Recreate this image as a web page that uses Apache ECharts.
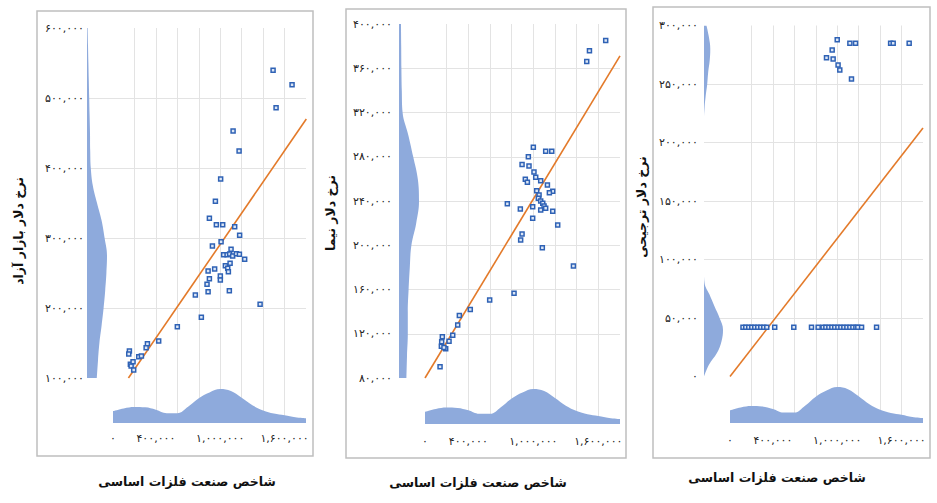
<!DOCTYPE html>
<html><head><meta charset="utf-8">
<script src="https://cdn.jsdelivr.net/npm/echarts@6/dist/echarts.min.js"></script>
<style>html,body{margin:0;padding:0;background:#fff}#c{width:937px;height:503px}</style>
</head><body><div id="c"></div>
<script>
// ---------------- DATA ----------------
// x: شاخص صنعت فلزات اساسی, y: نرخ دلار
const freeMarketPoints = [
  [1493000,539600],[1670000,519000],[1521000,486000],[1120000,452900],[1176000,424300],
  [1004000,384300],[955000,352400],[899000,328100],[964000,319000],[1023000,319000],
  [1135000,316100],[1181000,303900],[1008000,294700],[927000,288600],[1101000,283900],
  [1032000,276100],[1064000,276100],[1088000,277100],[1116000,274300],[1151000,277600],
  [1179000,276700],[1228000,269600],[1048000,260400],[1070000,256700],[1092000,263900],
  [1076000,251900],[948000,255700],[887000,252900],[899000,241900],[877000,233900],
  [887000,223300],[1001000,245700],[1001000,240000],[1085000,224700],[768000,218600],
  [824000,186700],[600000,173300],[1372000,205300],[426000,152900],[321000,149000],
  [309000,143300],[240000,130400],[265000,131400],[153000,138600],[147000,134300],
  [162000,119600],[169000,117100],[193000,111400],[187000,123300]
];
const freeMarketTrend = [[144000,100000],[1803000,470000]];

const nimaPoints = [
  [1668000,385100],[1518000,375800],[1493000,366100],[1000000,288600],[1114000,285000],
  [1170000,285000],[954000,280100],[896000,272900],[960000,271700],[1006000,266200],
  [1022000,261400],[926000,259600],[945000,256900],[1068000,258400],[1130000,254500],
  [1179000,248800],[1148000,247500],[1031000,249300],[1053000,245400],[1046000,242400],
  [1068000,240000],[1087000,237900],[1099000,235500],[1114000,233400],[760000,237600],
  [880000,232800],[994000,234800],[1068000,231900],[1179000,230700],[994000,224300],
  [1225000,218300],[896000,210100],[883000,204700],[1083000,197700],[1370000,181200],
  [822000,156700],[597000,150400],[418000,142000],[317000,136600],[302000,127800],
  [256000,118700],[222000,113300],[160000,117200],[154000,112700],[151000,108800],
  [191000,106400],[175000,107600],[139000,90100]
];
const nimaTrend = [[0,80000],[1800000,371200]];

const preferentialHighPoints = [
  [1000000,287900],[1118000,284800],[1171000,284800],[1498000,284800],[1522000,284800],
  [1671000,284800],[953000,279000],[900000,272500],[962000,271400],[1008000,266200],
  [1024000,262000],[1133000,254300]
];
const preferentialLowX = [
  121000,147000,175000,203000,231000,259000,287000,315000,343000,417000,595000,760000,
  822000,868000,894000,922000,950000,977000,1006000,1034000,1062000,1090000,1118000,
  1146000,1174000,1192000,1227000,1367000
];
const preferentialLowY = 42000;
const preferentialTrend = [[0,0],[1800000,212400]];

// marginal density of the metals index (relative, peak = 100)
const indexDensityAt = [0,100000,200000,300000,400000,500000,600000,700000,800000,900000,
  1000000,1100000,1200000,1300000,1400000,1500000,1600000,1700000,1800000];
const indexDensity = [35,43,47,46,39,29,29,48,73,90,100,94,74,52,37,28,23,17,14];

// marginal densities of the dollar rates (relative, peak = 100), bottom to top
const freeMarketDensityAt = [100000,125000,150000,175000,200000,225000,250000,275000,300000,
  325000,350000,375000,400000,425000,450000,475000,500000,525000,550000,575000,600000];
const freeMarketDensity = [49,55,62,73,83,91,97,100,88,73,50,29,19,16,15,13,11,9,7,5,3];

const nimaDensityAt = [80000,100000,120000,140000,160000,180000,200000,220000,240000,260000,
  280000,300000,320000,340000,360000,380000,400000];
const nimaDensity = [37,40,44,44,48,54,62,86,100,94,71,46,18,14,12,11,10];

const preferentialDensityAt = [0,10000,20000,30000,40000,50000,60000,70000,80000,90000,100000,
  110000,120000,130000,140000,150000,160000,170000,180000,190000,200000,210000,220000,230000,
  240000,250000,260000,270000,280000,290000,300000];
const preferentialDensity = [0,26,68,92,100,82,55,29,3,0,0,0,0,0,0,0,0,0,0,0,0,0,0,3,9,17,22,30,33,26,13];

const xTickLabels = [0, 400000, 1000000, 1600000];
const xTitle = 'شاخص صنعت فلزات اساسی';
const yTitles = ['نرخ دلار بازار آزاد', 'نرخ دلار نیما', 'نرخ دلار ترجیحی'];

// ---------------- CHART ----------------
const FA = '۰۱۲۳۴۵۶۷۸۹';
function fa(n){ return Math.round(n).toLocaleString('en-US').replace(/\d/g, d => FA[d]); }

const panels = [
  { pts: freeMarketPoints, trend: freeMarketTrend, yMin:100000, yMax:600000, yStep:100000,
    dAt: freeMarketDensityAt, dens: freeMarketDensity,
    sx:113, sw:193, sy:28, sh:350, dl:87, dw:20, xdTop:389, base:423, yLM:29, xLM:10,
    box:[37,11,276,445], yT:[18,231], xT:[187,481] },
  { pts: nimaPoints, trend: nimaTrend, yMin:80000, yMax:400000, yStep:40000,
    dAt: nimaDensityAt, dens: nimaDensity,
    sx:425, sw:195, sy:24, sh:354, dl:399, dw:20, xdTop:389, base:424, yLM:33, xLM:12,
    box:[346,9,280,449], yT:[330,213], xT:[478,482] },
  { pts: preferentialHighPoints.concat(preferentialLowX.map(x => [x, preferentialLowY])),
    trend: preferentialTrend, yMin:0, yMax:300000, yStep:50000,
    dAt: preferentialDensityAt, dens: preferentialDensity,
    sx:730, sw:193, sy:25.5, sh:351, dl:704, dw:19, xdTop:387, base:423, yLM:32, xLM:12,
    box:[653,7,277,451], yT:[641,207], xT:[777,477] }
];

const grid = [], xAxis = [], yAxis = [], series = [], graphic = [];
const labelStyle = { color:'#222', fontSize:11, fontFamily:'DejaVu Sans' };
const gridLine = { color:'#E3E3E3', width:1 };
const hidden = { show:false };

panels.forEach((p, k) => {
  const g0 = grid.length;
  // scatter grid
  grid.push({ left:p.sx, top:p.sy, width:p.sw, height:p.sh });
  xAxis.push({ gridIndex:g0, type:'value', min:0, max:1800000, show:false });
  yAxis.push({ gridIndex:g0, type:'value', min:p.yMin, max:p.yMax, interval:p.yStep,
    axisLine:hidden, axisTick:hidden, splitLine:hidden,
    axisLabel:Object.assign({ margin:p.yLM, formatter:v => fa(v) }, labelStyle) });
  // vertical grid lines + x labels
  grid.push({ left:p.sx, top:p.sy, width:p.sw, height:p.base - p.sy });
  xAxis.push({ gridIndex:g0+1, type:'value', min:0, max:1800000, interval:200000,
    axisLine:hidden, axisTick:hidden,
    splitLine:{ show:true, showMinLine:false, showMaxLine:false, lineStyle:gridLine },
    axisLabel:Object.assign({ margin:p.xLM, formatter:v => xTickLabels.includes(v) ? fa(v) : '' }, labelStyle) });
  yAxis.push({ gridIndex:g0+1, type:'value', min:0, max:1, show:false });
  // horizontal grid lines
  grid.push({ left:p.dl, top:p.sy, width:p.sx + p.sw - p.dl, height:p.sh });
  xAxis.push({ gridIndex:g0+2, type:'value', min:0, max:1, show:false });
  yAxis.push({ gridIndex:g0+2, type:'value', min:p.yMin, max:p.yMax, interval:p.yStep,
    axisLine:hidden, axisTick:hidden, axisLabel:hidden,
    splitLine:{ show:true, showMinLine:false, showMaxLine:false, lineStyle:gridLine } });
  // y density
  grid.push({ left:p.dl, top:p.sy, width:p.dw, height:p.sh });
  xAxis.push({ gridIndex:g0+3, type:'value', min:0, max:100, show:false });
  yAxis.push({ gridIndex:g0+3, type:'category', boundaryGap:false, data:p.dAt.map(String), show:false });
  // x density
  grid.push({ left:p.sx, top:p.xdTop, width:p.sw, height:p.base - p.xdTop });
  xAxis.push({ gridIndex:g0+4, type:'value', min:0, max:1800000, show:false });
  yAxis.push({ gridIndex:g0+4, type:'value', min:0, max:100, show:false });

  series.push({ type:'line', xAxisIndex:g0+3, yAxisIndex:g0+3, data:p.dens.map((v,i) => [v,i]),
    symbol:'none', smooth:0.4, lineStyle:{ width:0 }, areaStyle:{ color:'#8EAADC', opacity:1 }, z:2, silent:true });
  series.push({ type:'line', xAxisIndex:g0+4, yAxisIndex:g0+4,
    data:indexDensityAt.map((x,i) => [x, indexDensity[i]]),
    symbol:'none', smooth:0.4, lineStyle:{ width:0 }, areaStyle:{ color:'#8EAADC', opacity:1 }, z:2, silent:true });
  series.push({ type:'line', xAxisIndex:g0, yAxisIndex:g0, data:p.trend, symbol:'none',
    lineStyle:{ color:'#E37A2A', width:1.6 }, z:3, silent:true });
  series.push({ type:'scatter', xAxisIndex:g0, yAxisIndex:g0, data:p.pts, symbol:'rect', symbolSize:4,
    itemStyle:{ color:'#DCE6F5', borderColor:'#2F62B5', borderWidth:1.5, opacity:1 }, z:4, silent:true });

  graphic.push({ type:'rect', shape:{ x:p.box[0], y:p.box[1], width:p.box[2], height:p.box[3] },
    style:{ fill:'none', stroke:'#BFBFBF', lineWidth:1.5 }, silent:true });
  graphic.push({ type:'text', x:p.yT[0], y:p.yT[1], rotation:Math.PI/2,
    style:{ text:yTitles[k], fontSize:12.5, fontWeight:'bold', fontFamily:'DejaVu Sans', fill:'#111',
      align:'center', verticalAlign:'middle' } });
  graphic.push({ type:'text', x:p.xT[0], y:p.xT[1],
    style:{ text:xTitle, fontSize:12.5, fontWeight:'bold', fontFamily:'DejaVu Sans', fill:'#111',
      align:'center', verticalAlign:'middle' } });
});

const chart = echarts.init(document.getElementById('c'), null, { renderer:'svg' });
chart.setOption({ animation:false, backgroundColor:'#fff', grid, xAxis, yAxis, series, graphic });
</script></body></html>
